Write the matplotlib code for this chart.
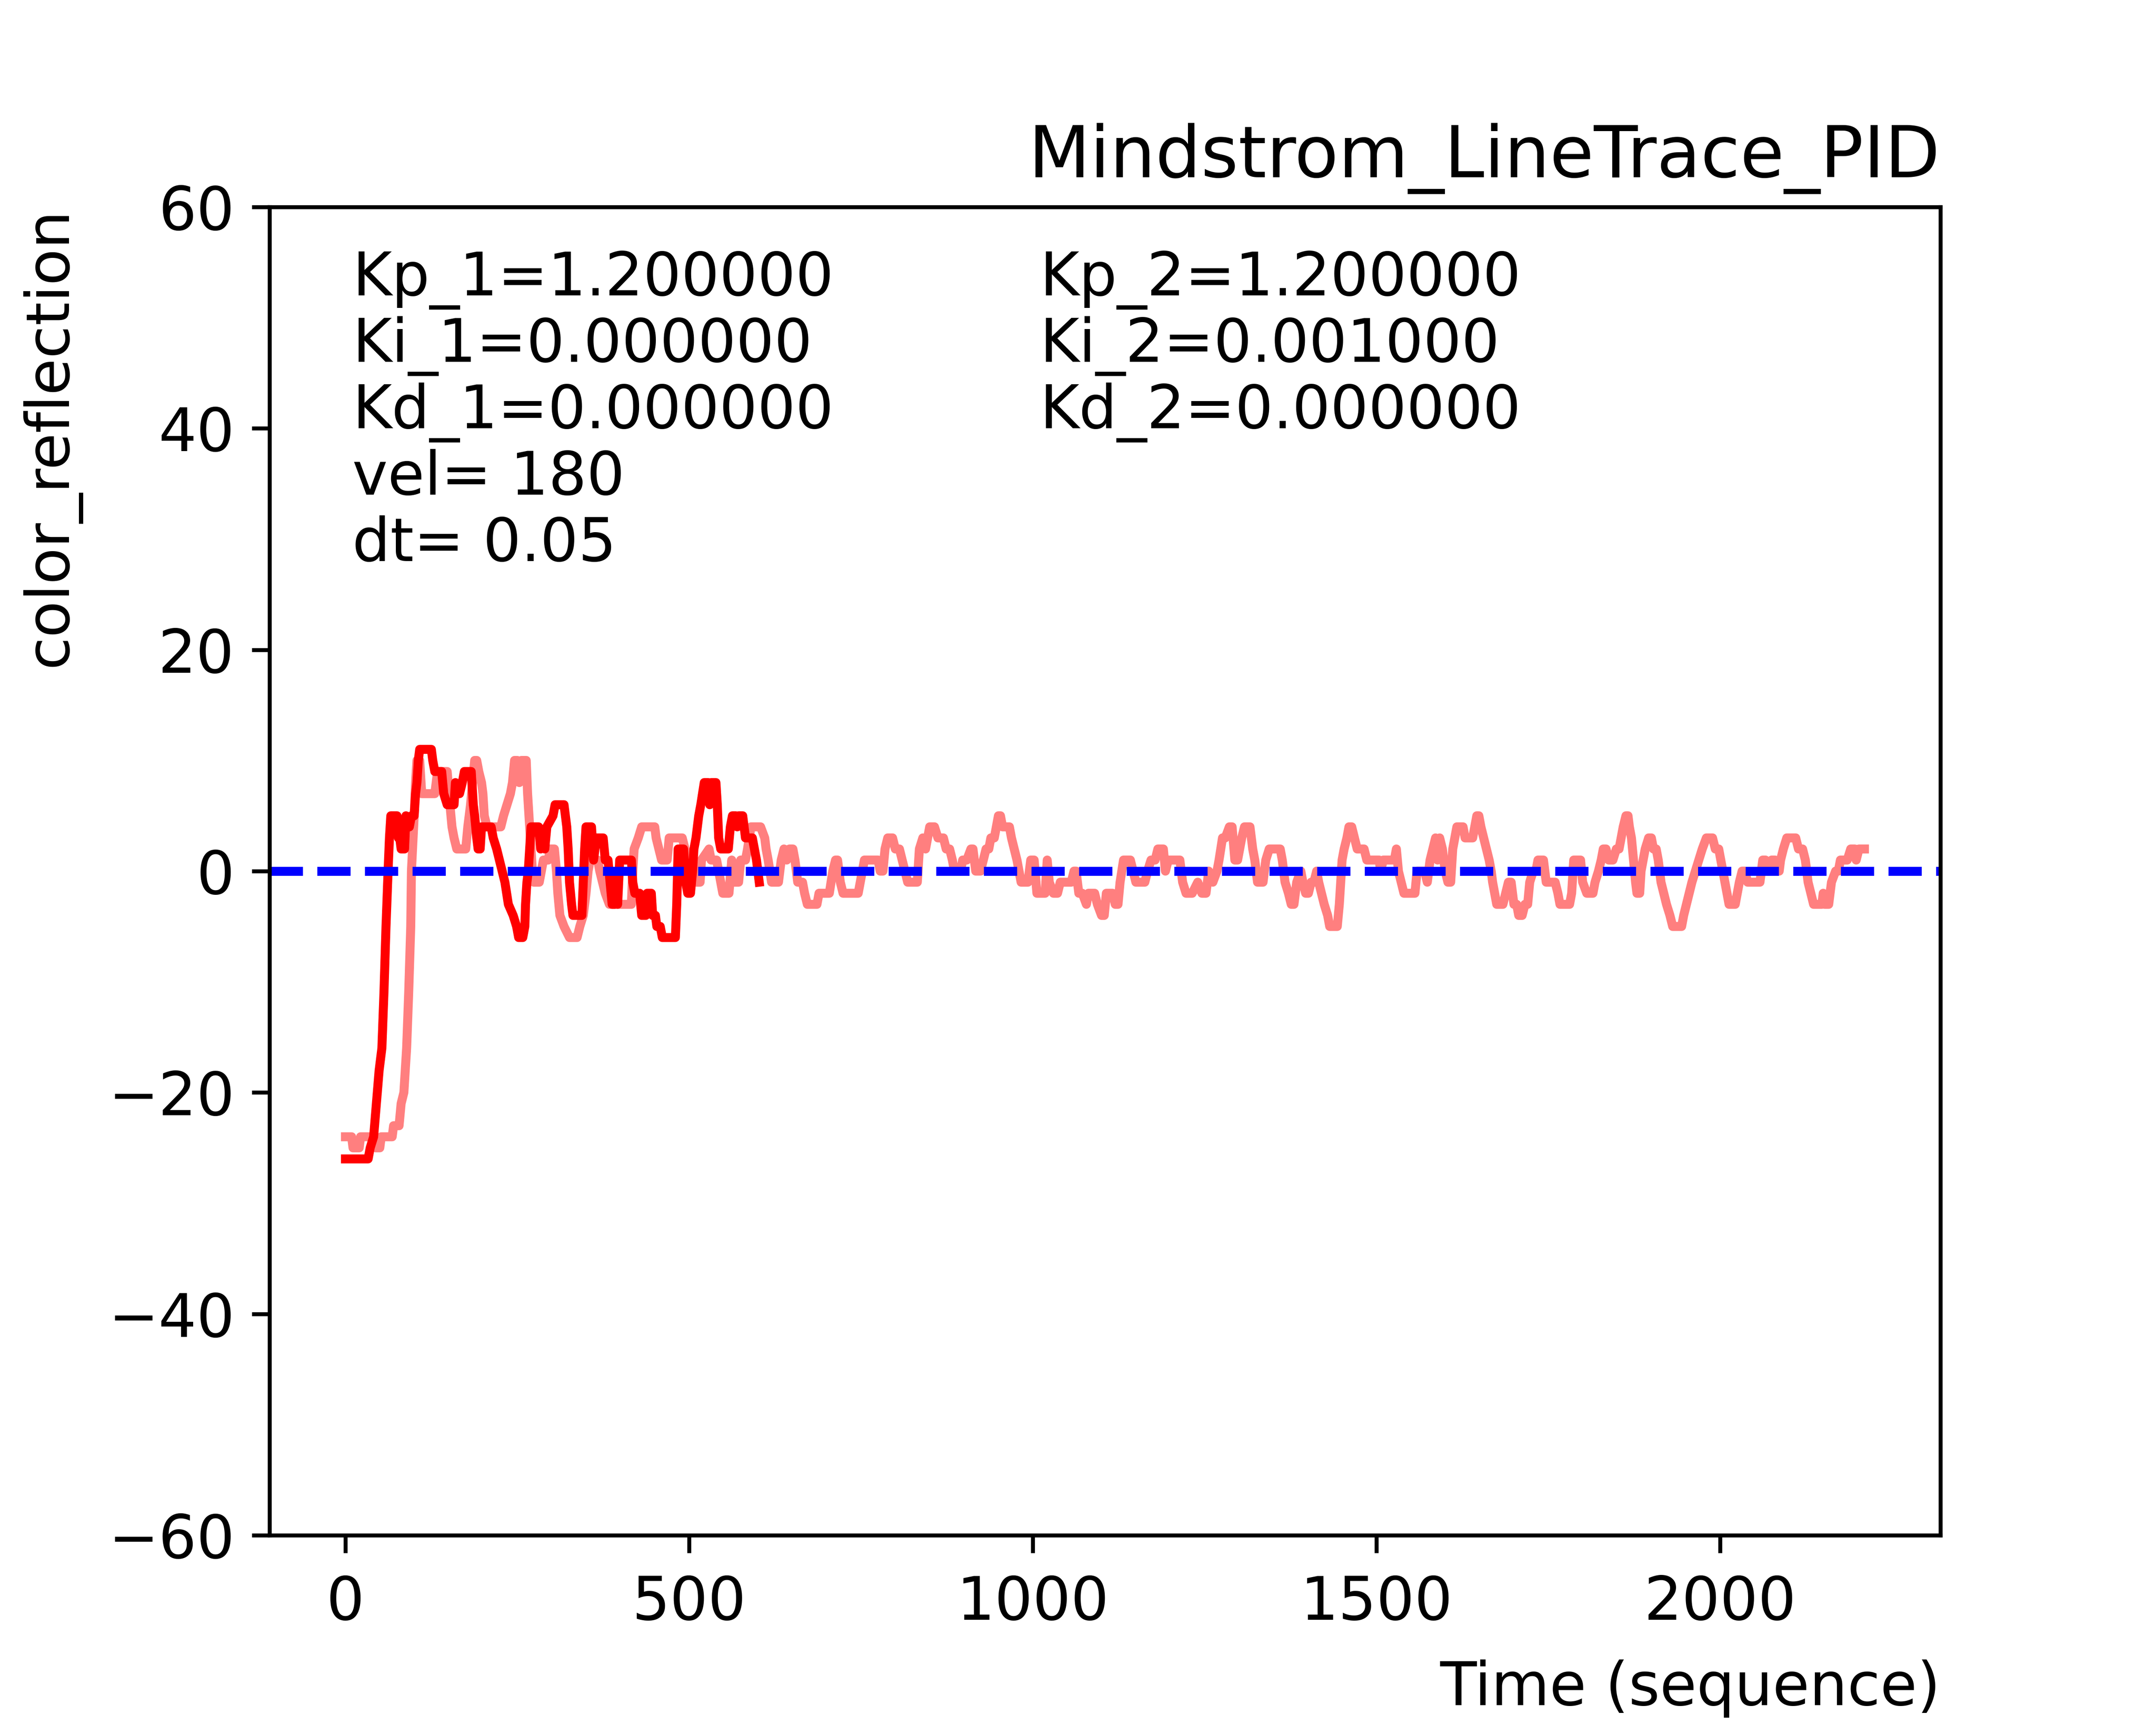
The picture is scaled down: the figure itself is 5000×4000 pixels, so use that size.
import matplotlib
matplotlib.use("Agg")
import matplotlib.pyplot as plt

# run 1 (Kp only) - sampled breakpoints (sequence index, reflection)
t_run1 = [0, 33, 36, 41, 45, 49, 53, 56, 59, 62, 64, 66, 75, 77, 79, 81, 86, 88, 93, 96,
          100, 102, 104, 106, 108, 125, 127, 130, 140, 143, 148, 158, 160, 166, 170, 173,
          183, 186, 188, 191, 193, 196, 198, 212, 215, 220, 224, 228, 232, 237, 244, 249,
          252, 258, 261, 262, 264, 266, 268, 270, 281, 284, 287, 290, 293, 302, 305, 318,
          320, 322, 324, 326, 329, 331, 344, 346, 348, 350, 358, 361, 365, 375, 378, 382,
          385, 388, 392, 394, 396, 399, 416, 418, 421, 428, 431, 437, 439, 445, 447, 451,
          453, 458, 461, 480, 482, 484, 492, 495, 498, 502, 505, 507, 510, 512, 514, 517,
          522, 528, 530, 532, 539, 541, 543, 546, 557, 560, 563, 568, 570, 572, 578, 580,
          582, 592, 595, 598, 602]
v_run1 = [-26, -26, -25, -24, -21, -18, -16, -11, -5, 0, 3, 5, 5, 3, 3, 2, 2, 5, 4, 5,
          5, 7, 8, 10, 11, 11, 10, 9, 9, 7, 6, 6, 8, 7, 8, 9,
          9, 6, 5, 3, 2, 2, 4, 4, 3, 2, 1, 0, -1, -3, -4, -5,
          -6, -6, -5, -3, -1, 0, 2, 4, 4, 2, 3, 2, 4, 5, 6, 6,
          5, 4, 2, -1, -3, -4, -4, -1, 2, 4, 4, 1, 3, 3, 1, 1,
          -1, -3, -3, 0, -3, 1, 1, -1, -2, -2, -4, -4, -2, -2, -4, -4,
          -5, -5, -6, -6, -3, 2, 2, -1, -2, -2, 0, 2, 3, 4, 5, 6,
          8, 8, 6, 8, 8, 6, 3, 2, 2, 4, 5, 5, 4, 5, 5, 4,
          3, 3, 2, 1, -1]

# run 2 (Kp + Ki)
t_run2 = [0, 9, 11, 20, 22, 42, 44, 50, 52, 68, 70, 78, 81, 85, 89, 92, 95, 96, 100, 102,
          104, 108, 111, 130, 134, 148, 152, 155, 158, 162, 175, 178, 182, 185, 188, 191,
          194, 198, 200, 202, 206, 226, 230, 235, 240, 243, 246, 250, 253, 256, 263, 265,
          268, 270, 272, 274, 282, 285, 288, 295, 298, 304, 307, 309, 312, 318, 326, 337,
          341, 346, 350, 353, 356, 367, 370, 374, 378, 384, 416, 418, 420, 426, 431, 450,
          452, 456, 460, 468, 471, 490, 494, 497, 499, 516, 518, 529, 532, 540, 546, 549,
          558, 562, 566, 572, 575, 582, 585, 590, 604, 610, 612, 615, 620, 630, 634, 638,
          642, 646, 651, 654, 658, 665, 668, 672, 686, 689, 704, 709, 713, 716, 720, 724,
          746, 749, 752, 755, 775, 778, 782, 785, 789, 796, 800, 806, 810, 814, 818, 832,
          835, 840, 844, 847, 850, 857, 862, 870, 874, 879, 883, 886, 895, 898, 904, 910,
          913, 917, 924, 928, 932, 936, 939, 944, 947, 950, 953, 956, 966, 969, 973, 977,
          980, 983, 993, 997, 1002, 1006, 1018, 1021, 1024, 1030, 1036, 1040, 1056, 1060, 1063, 1067,
          1072, 1078, 1081, 1090, 1094, 1100, 1104, 1107, 1116, 1120, 1124, 1127, 1132, 1142, 1146, 1150,
          1163, 1167, 1172, 1178, 1182, 1190, 1193, 1197, 1214, 1218, 1223, 1232, 1240, 1246, 1252, 1256,
          1262, 1268, 1271, 1276, 1280, 1286, 1290, 1294, 1298, 1304, 1308, 1316, 1320, 1323, 1327, 1335,
          1339, 1344, 1360, 1363, 1367, 1372, 1376, 1380, 1384, 1390, 1393, 1397, 1401, 1405, 1409, 1413,
          1416, 1420, 1424, 1429, 1432, 1443, 1446, 1448, 1450, 1453, 1457, 1460, 1464, 1468, 1472, 1482,
          1486, 1504, 1506, 1510, 1526, 1529, 1532, 1536, 1540, 1556, 1559, 1570, 1574, 1578, 1582, 1586,
          1589, 1592, 1596, 1600, 1604, 1608, 1611, 1614, 1617, 1626, 1629, 1640, 1643, 1646, 1649, 1652,
          1656, 1660, 1664, 1667, 1669, 1672, 1675, 1684, 1688, 1692, 1696, 1700, 1704, 1707, 1712, 1716,
          1720, 1723, 1728, 1732, 1735, 1743, 1747, 1756, 1760, 1764, 1767, 1781, 1784, 1787, 1797, 1800,
          1806, 1815, 1818, 1823, 1827, 1830, 1834, 1838, 1844, 1849, 1853, 1856, 1859, 1863, 1866, 1868,
          1871, 1874, 1877, 1879, 1883, 1885, 1888, 1891, 1896, 1900, 1903, 1907, 1910, 1914, 1918, 1922,
          1927, 1931, 1944, 1947, 1951, 1955, 1959, 1964, 1969, 1974, 1980, 1989, 1993, 1998, 2001, 2004,
          2007, 2010, 2013, 2022, 2025, 2028, 2032, 2036, 2040, 2058, 2062, 2066, 2070, 2075, 2080, 2086,
          2088, 2092, 2097, 2110, 2114, 2120, 2124, 2128, 2132, 2136, 2148, 2150, 2152, 2158, 2162, 2168,
          2172, 2175, 2185, 2190, 2196, 2198, 2202, 2210]
v_run2 = [-24, -24, -25, -25, -24, -24, -25, -25, -24, -24, -23, -23, -21, -20, -16, -11, -5, 0, 5, 8,
          10, 10, 7, 7, 9, 9, 6, 4, 3, 2, 2, 4, 6, 8, 10, 10,
          9, 8, 7, 5, 4, 4, 5, 6, 7, 8, 10, 10, 8, 10, 10, 7,
          4, 2, 0, -1, -1, 0, 1, 1, 2, 2, 0, -2, -4, -5, -6, -6,
          -5, -4, -2, 0, 1, 1, 0, -1, -2, -3, -3, 0, 2, 3, 4, 4,
          3, 2, 1, 1, 3, 3, 2, 0, -1, -1, 1, 2, 1, 1, -1, -2,
          -2, 1, -1, -1, 1, 1, 2, 4, 4, 3, 2, 1, -1, -1, 1, 2,
          1, 2, 2, 1, -1, -1, -2, -3, -3, -2, -2, 0, 1, 1, -1, -2,
          -2, -1, 0, 1, 1, 0, 0, 2, 3, 3, 2, 2, 1, 0, -1, -1,
          2, 3, 2, 3, 4, 4, 3, 3, 2, 2, 1, 0, 0, 1, 1, 2,
          2, 0, 0, 1, 2, 2, 3, 3, 4, 5, 5, 4, 4, 3, 2, 1,
          0, -1, -1, 1, 1, -2, -2, 1, -1, -2, -2, -1, -1, 0, 0, -2,
          -2, -3, -2, -2, -3, -4, -4, -2, -2, -3, -3, -1, 1, 1, 0, -1,
          -1, 0, 1, 1, 2, 2, 0, 1, 1, -1, -2, -2, -1, -2, -2, 0,
          -1, 0, 1, 3, 3, 4, 4, 1, 1, 3, 4, 4, 2, 1, -1, -1,
          1, 2, 2, 1, -1, -2, -3, -3, -1, 0, -1, -2, -2, -1, -1, 0,
          -1, -2, -3, -4, -5, -5, -3, -1, 1, 2, 3, 4, 4, 3, 2, 2,
          1, 1, 0, 1, 1, 2, 0, -1, -2, -2, 0, 0, -1, 1, 2, 3,
          1, 3, 2, 0, -1, -1, 2, 3, 4, 4, 3, 3, 4, 5, 5, 4,
          3, 2, 1, 0, -1, -2, -3, -3, -2, -1, -1, -3, -3, -4, -4, -3,
          -3, -1, 0, 0, 1, 1, -1, -1, -1, -2, -3, -3, -2, 1, 1, -1,
          -2, -2, -1, 0, 1, 2, 2, 1, 1, 2, 2, 3, 4, 5, 5, 4,
          3, 1, -1, -2, -2, 0, 1, 2, 3, 3, 2, 2, 1, -1, -2, -3,
          -4, -5, -5, -4, -3, -2, -1, 0, 1, 2, 3, 3, 2, 2, 1, 0,
          -1, -2, -3, -3, -2, -1, 0, 0, -1, -1, 1, 1, 0, 1, 1, 0,
          1, 2, 3, 3, 2, 2, 1, -1, -2, -3, -3, -2, -3, -3, -1, 0,
          0, 1, 1, 2, 2, 1, 2, 2]

params_1 = ["Kp_1=1.200000", "Ki_1=0.000000", "Kd_1=0.000000", "vel= 180", "dt= 0.05"]
params_2 = ["Kp_2=1.200000", "Ki_2=0.001000", "Kd_2=0.000000"]

plt.rcParams["font.size"] = 12

fig, ax = plt.subplots(figsize=(6, 4.8))
ax.plot(t_run2, v_run2, color="red", alpha=0.5, lw=1.8)
ax.plot(t_run1, v_run1, color="red", lw=1.8)
ax.axhline(0, color="blue", ls="--", lw=1.8)
ax.set_ylim(-60, 60)

# parameter notes, one line every 6 units
for i, s in enumerate(params_1):
    ax.text(10, 52 - 6 * i, s)
for i, s in enumerate(params_2):
    ax.text(1010, 52 - 6 * i, s)

ax.tick_params(axis="x", pad=4.3)
ax.set_title("Mindstrom_LineTrace_PID", loc="right", fontsize="large")
ax.set_xlabel("Time (sequence)", loc="right", labelpad=5.4)
ax.set_ylabel("color_reflection", loc="top", labelpad=5.6)
fig.savefig("out.png", dpi=5000 / 6)
